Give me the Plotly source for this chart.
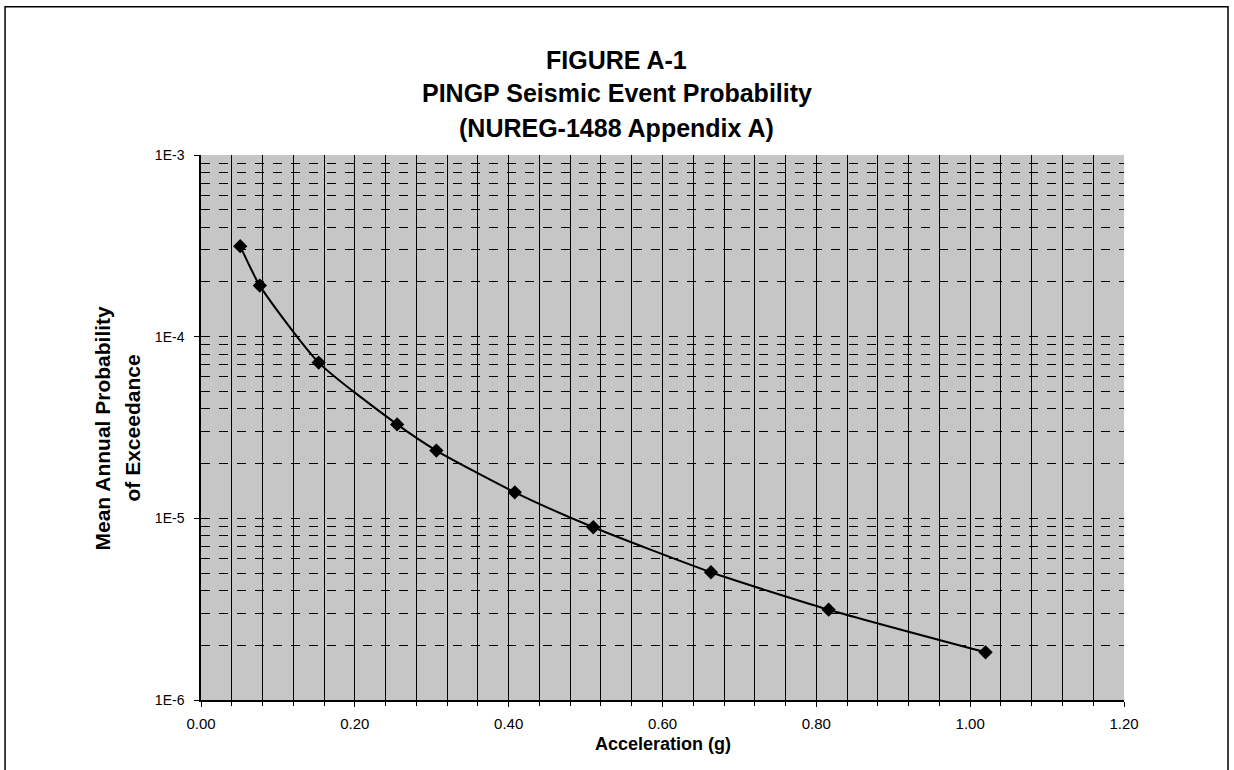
import plotly.graph_objects as go

# Data (acceleration in g, mean annual probability of exceedance)
accel_g = [0.051, 0.0765, 0.153, 0.255, 0.306, 0.408, 0.51, 0.663, 0.816, 1.02]
prob_exceed = [3.15e-4, 1.91e-4, 7.2e-5, 3.29e-5, 2.36e-5, 1.39e-5, 8.93e-6, 5.05e-6, 3.14e-6, 1.83e-6]

x_tick_vals = [0.0, 0.2, 0.4, 0.6, 0.8, 1.0, 1.2]
x_tick_text = ["0.00", "0.20", "0.40", "0.60", "0.80", "1.00", "1.20"]
y_tick_vals = [1e-6, 1e-5, 1e-4, 1e-3]
y_tick_text = ["1E-6", "1E-5", "1E-4", "1E-3"]
y_minor_vals = [m * d for d in [1e-6, 1e-5, 1e-4] for m in range(2, 10)]

title_lines = ["FIGURE A-1", "PINGP Seismic Event Probability", "(NUREG-1488 Appendix A)"]
x_title = "Acceleration (g)"
y_title_lines = ["Mean Annual Probability", "of Exceedance"]

FONT = "Liberation Sans, Arial, sans-serif"

fig = go.Figure()
fig.add_trace(go.Scatter(
    x=accel_g, y=prob_exceed, mode="lines+markers",
    line=dict(color="black", width=2, shape="spline", smoothing=0.6),
    marker=dict(symbol="diamond", size=11, color="black"),
    showlegend=False,
))

fig.update_layout(
    width=1234, height=770,
    margin=dict(l=201, r=110, t=155, b=70),
    paper_bgcolor="white",
    plot_bgcolor="#c6c6c6",
    font=dict(family=FONT, color="black"),
    xaxis=dict(
        range=[0, 1.2], tickmode="array", tickvals=x_tick_vals, ticktext=x_tick_text,
        showgrid=True, gridcolor="black", gridwidth=1.2,
        ticks="outside", ticklen=5, tickcolor="black",
        tickfont=dict(size=15, family=FONT), ticklabelstandoff=4,
        showline=True, linecolor="black", linewidth=1.5, mirror=False,
        zeroline=False,
        minor=dict(dtick=0.04, tick0=0, showgrid=True, gridcolor="black", gridwidth=1.2,
                   ticks="outside", ticklen=4, tickcolor="black"),
    ),
    yaxis=dict(
        type="log", range=[-6, -3], tickmode="array", tickvals=y_tick_vals, ticktext=y_tick_text,
        showgrid=True, gridcolor="black", gridwidth=1.2, griddash="dash",
        ticks="outside", ticklen=5, tickcolor="black",
        tickfont=dict(size=14, family=FONT), ticklabelstandoff=7,
        showline=True, linecolor="black", linewidth=1.5,
        zeroline=False,
        minor=dict(tickmode="array", tickvals=y_minor_vals, showgrid=True,
                   gridcolor="black", gridwidth=1.2, griddash="dash", ticks=""),
    ),
)

# Titles
title_y = [1.1745, 1.1139, 1.0496]
for txt, yy in zip(title_lines, title_y):
    fig.add_annotation(text=f"<b>{txt}</b>", xref="paper", yref="paper", x=0.4507, y=yy,
                       showarrow=False, font=dict(size=25, family=FONT), xanchor="center", yanchor="middle")

fig.add_annotation(text=f"<b>{x_title}</b>", xref="paper", yref="paper", x=0.5, y=-0.081,
                   showarrow=False, font=dict(size=18, family=FONT), xanchor="center", yanchor="middle")

for txt, xx in zip(y_title_lines, [-0.1062, -0.0737]):
    fig.add_annotation(text=f"<b>{txt}</b>", xref="paper", yref="paper", x=xx, y=0.5,
                       textangle=-90, showarrow=False, font=dict(size=21, family=FONT),
                       xanchor="center", yanchor="middle")

# Outer frame
fig.add_shape(type="rect", xref="paper", yref="paper", x0=-0.2123, x1=1.1127, y0=-0.25, y1=1.2718,
              line=dict(color="black", width=1.5), fillcolor="rgba(0,0,0,0)", layer="below")

fig.write_html("out.html", config={"displayModeBar": False},
               post_script="document.body.style.margin='0';")
